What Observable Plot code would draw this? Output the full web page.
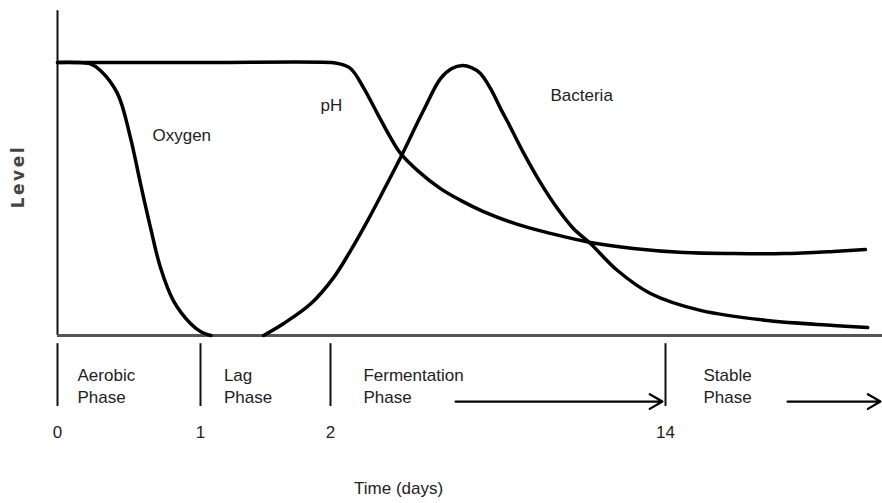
<!DOCTYPE html>
<html>
<head>
<meta charset="utf-8">
<script src="https://cdn.jsdelivr.net/npm/d3@7"></script>
<script src="https://cdn.jsdelivr.net/npm/@observablehq/plot@0.6"></script>
<style>
  html, body { margin: 0; padding: 0; background: #fff; }
  #chart text[transform*="rotate(-90)"] { letter-spacing: 2.5px; }
</style>
</head>
<body>
<div id="chart"></div>
<script>
// ---- Data (time in days, level relative 0..1) ----
const oxygenDays  = [0, 0.13, 0.23, 0.30, 0.42, 0.51, 0.58, 0.65, 0.72, 0.81, 0.93, 1.0, 1.08];
const oxygenLevel = [1, 1, 0.995, 0.971, 0.886, 0.725, 0.557, 0.396, 0.249, 0.128, 0.044, 0.015, 0];

const phDays  = [0, 1, 2, 2.29, 2.72, 3.18, 3.68, 4.15, 4.51, 5.12, 5.94, 6.66, 7.48, 8.70, 9.88, 11.31, 12.85, 14.65, 16.44, 18.23, 20.02, 21.16];
const phLevel = [1, 1, 1, 0.996, 0.978, 0.908, 0.813, 0.725, 0.667, 0.604, 0.538, 0.495, 0.454, 0.407, 0.374, 0.341, 0.319, 0.304, 0.300, 0.300, 0.308, 0.315];

const bacteriaDays  = [1.485, 1.64, 1.85, 2.11, 2.72, 3.33, 3.90, 4.51, 5.33, 5.94, 6.33, 6.73, 7.05, 7.37, 7.73, 8.09, 8.45, 8.91, 9.52, 10.13, 10.70, 11.31, 12.28, 13.46, 15.25, 17.65, 20.02, 21.24];
const bacteriaLevel = [0, 0.044, 0.117, 0.212, 0.311, 0.421, 0.531, 0.652, 0.824, 0.941, 0.977, 0.989, 0.981, 0.960, 0.905, 0.832, 0.762, 0.670, 0.560, 0.465, 0.392, 0.337, 0.238, 0.154, 0.092, 0.055, 0.037, 0.029];

const seriesNames  = ["Oxygen", "pH", "Bacteria"];
const labelDays    = [0.664, 1.923, 9.88];
const labelLevels  = [0.733, 0.844, 0.879];

const boundaryDays   = [0, 1, 2, 14];
const boundaryLabels = ["0", "1", "2", "14"];
const phaseNames     = ["Aerobic\nPhase", "Lag\nPhase", "Fermentation\nPhase", "Stable\nPhase"];
const phaseStartDays = [0.14, 1.18, 3.18, 15.36];
const arrowFromDays  = [6.48, 18.37];
const arrowToDays    = [13.89, 21.70];

const axisTitleX = "Time (days)";
const axisTitleY = "Level";

// ---- Build tables ----
const rows = [];
oxygenDays.forEach((d, i) => rows.push({series: "Oxygen", day: d, level: oxygenLevel[i]}));
phDays.forEach((d, i) => rows.push({series: "pH", day: d, level: phLevel[i]}));
bacteriaDays.forEach((d, i) => rows.push({series: "Bacteria", day: d, level: bacteriaLevel[i]}));
const labels = seriesNames.map((s, i) => ({name: s, day: labelDays[i], level: labelLevels[i]}));
const bounds = boundaryDays.map((d, i) => ({day: d, label: boundaryLabels[i]}));
const phases = phaseNames.map((p, i) => ({name: p, day: phaseStartDays[i]}));
const arrows = arrowFromDays.map((d, i) => ({from: d, to: arrowToDays[i]}));

// layout levels for the annotation band below the axis
const tickTop = -0.03, tickBottom = -0.26, phaseY = -0.18, numberY = -0.355, arrowY = -0.242, titleY = -0.56;
const yTop = 1.19, xEnd = 21.77;

const sans = "'Liberation Sans', Arial, Helvetica, sans-serif";
const fs = 17;

const chart = Plot.plot({
  width: 882,
  height: 503,
  margin: 0,
  style: {background: "#fff", fontFamily: sans, fontSize: fs + "px", color: "#222"},
  x: {type: "linear", domain: [0, 1, 2, 14, xEnd], range: [57, 200, 330, 665, 882], axis: null},
  y: {type: "linear", domain: [0, 1], range: [335, 62], axis: null},
  marks: [
    // axes frame
    Plot.ruleX([0], {y1: 0, y2: yTop, stroke: "#111", strokeWidth: 2}),
    Plot.ruleY([0], {x1: 0, x2: xEnd, stroke: "#555", strokeWidth: 3}),
    // curves
    Plot.line(rows, {x: "day", y: "level", z: "series", stroke: "#000", strokeWidth: 3.5, curve: "catmull-rom"}),
    // curve labels
    Plot.text(labels, {x: "day", y: "level", text: "name", textAnchor: "start", fill: "#222", fontSize: fs}),
    // phase boundaries
    Plot.ruleX(bounds, {x: "day", y1: tickTop, y2: tickBottom, stroke: "#111", strokeWidth: 2}),
    Plot.text(bounds, {x: "day", y: numberY, text: "label", fill: "#222", fontSize: fs}),
    // phase names
    Plot.text(phases, {x: "day", y: phaseY, text: "name", textAnchor: "start", lineHeight: 1.35, fill: "#222", fontSize: fs}),
    // arrows
    Plot.arrow(arrows, {x1: "from", x2: "to", y1: arrowY, y2: arrowY, stroke: "#000", strokeWidth: 2.2, headLength: 10}),
    // axis titles
    Plot.text([axisTitleX], {x: 4.44, y: titleY, text: d => d, fill: "#222", fontSize: fs}),
    Plot.text([axisTitleY], {x: -0.273, y: 0.582, text: d => d, rotate: -90, fill: "#444", fontSize: 17,
      fontFamily: "'DejaVu Sans', sans-serif", fontWeight: "bold"})
  ]
});
document.getElementById("chart").appendChild(chart);
</script>
</body>
</html>
